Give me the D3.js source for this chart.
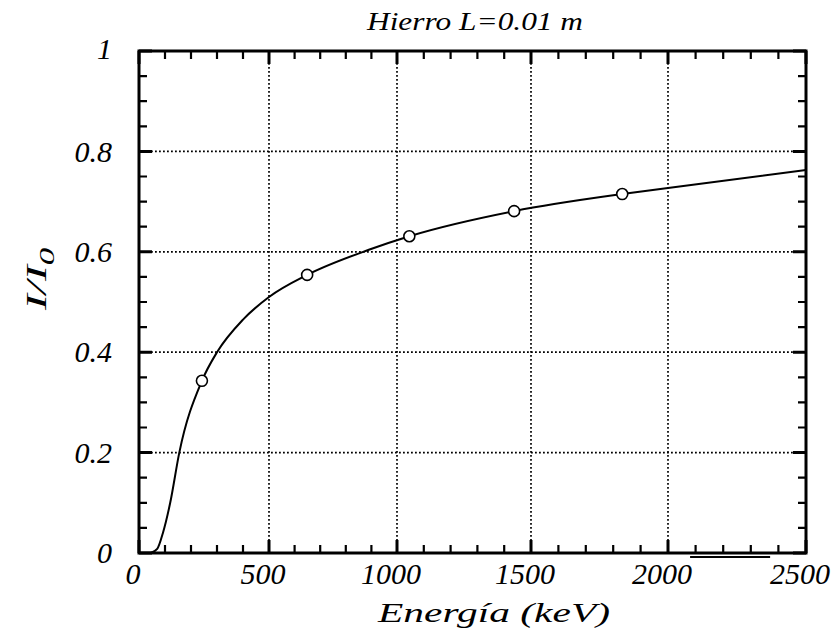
<!DOCTYPE html>
<html>
<head>
<meta charset="utf-8">
<script src="https://cdn.jsdelivr.net/npm/d3@7"></script>
<style>
  body { margin: 0; background: #fff; overflow: hidden; }
  svg { display: block; }
  svg text { font-family: "Liberation Serif", "DejaVu Serif", serif; font-style: italic; fill: #000; }
</style>
</head>
<body>
<div id="content"></div>
<script>
// measured points, energy in keV vs transmitted fraction
var pointEnergy = [242, 649, 1046, 1437, 1833];
var pointRatio = [0.343, 0.554, 0.631, 0.681, 0.715];

// fitted curve
var curveEnergy = [45, 70, 92, 120, 155, 242, 300, 400, 500, 649, 890, 1046, 1437, 1833, 2000, 2500];
var curveRatio = [0, 0.008, 0.04, 0.1, 0.2, 0.343, 0.40, 0.465, 0.51, 0.554, 0.604, 0.631, 0.681, 0.715, 0.727, 0.763];

var xTicks = [0, 500, 1000, 1500, 2000, 2500];
var yTicks = [0, 0.2, 0.4, 0.6, 0.8, 1];
var xGrid = [500, 1000, 1500, 2000];
var yGrid = [0.2, 0.4, 0.6, 0.8];

// stray pen stroke under the 2000-2500 labels in the scan
var strayStroke = [2080, 2370];

var titleText = "Hierro L=0.01 m";
var xLabel = "Energía (keV)";

var chartW = 837, chartH = 635;
var box = { left: 139, right: 806, top: 51, bottom: 553 };

var svg = d3.select("#content").append("svg")
    .attr("width", chartW)
    .attr("height", chartH);

// the scanned grid is slightly uneven, so the x scale follows it per 500 keV
var xScale = d3.scaleLinear()
    .domain(xTicks)
    .range([box.left, 269, 397, 531, 668, box.right]);
var yScale = d3.scaleLinear()
    .domain([0, 1])
    .range([box.bottom, box.top]);

// dotted grid
svg.append("g").selectAll("line")
    .data(xGrid)
    .enter().append("line")
    .attr("x1", d => xScale(d)).attr("x2", d => xScale(d))
    .attr("y1", box.top).attr("y2", box.bottom)
    .attr("stroke", "#000").attr("stroke-width", 1.7)
    .attr("stroke-dasharray", "1.8,2.2");
svg.append("g").selectAll("line")
    .data(yGrid)
    .enter().append("line")
    .attr("x1", box.left).attr("x2", box.right)
    .attr("y1", d => yScale(d)).attr("y2", d => yScale(d))
    .attr("stroke", "#000").attr("stroke-width", 1.7)
    .attr("stroke-dasharray", "1.8,2.2");

// inward ticks on all four sides, one path per tick size
var xMinor = d3.range(0, 2501, 100).filter(d => d % 500 != 0);
var yMinor = d3.range(0, 21).filter(i => i % 4 != 0).map(i => i / 20);

function tickPath(xs, ys, len) {
    var p = d3.path();
    xs.forEach(function (v) {
        var px = xScale(v);
        p.moveTo(px, box.bottom); p.lineTo(px, box.bottom - len);
        p.moveTo(px, box.top); p.lineTo(px, box.top + len);
    });
    ys.forEach(function (v) {
        var py = yScale(v);
        p.moveTo(box.left, py); p.lineTo(box.left + len, py);
        p.moveTo(box.right, py); p.lineTo(box.right - len, py);
    });
    return p.toString();
}
svg.append("path")
    .attr("d", tickPath(xMinor, yMinor, 8))
    .attr("fill", "none")
    .attr("stroke", "#000")
    .attr("stroke-width", 2.2);
svg.append("path")
    .attr("d", tickPath(xTicks, yTicks, 13))
    .attr("fill", "none")
    .attr("stroke", "#000")
    .attr("stroke-width", 3);

// frame
svg.append("rect")
    .attr("x", box.left).attr("y", box.top)
    .attr("width", box.right - box.left)
    .attr("height", box.bottom - box.top)
    .attr("fill", "none")
    .attr("stroke", "#000")
    .attr("stroke-width", 3);

// tick labels
svg.append("g").selectAll("text")
    .data(xTicks)
    .enter().append("text")
    .attr("x", d => xScale(d) - 6)
    .attr("y", box.bottom + 31)
    .style("text-anchor", "middle")
    .style("font-size", "30px")
    .text(d => d);

svg.append("g").selectAll("text")
    .data(yTicks)
    .enter().append("text")
    .attr("x", box.left - 27)
    .attr("y", d => yScale(d))
    .attr("dy", d => d == 1 ? "0.28em" : "0.34em")
    .style("text-anchor", "end")
    .style("font-size", "30px")
    .text(d => d);

// curve
var curveData = curveEnergy.map((e, i) => [e, curveRatio[i]]);
var curveLine = d3.line()
    .x(d => xScale(d[0]))
    .y(d => yScale(d[1]))
    .curve(d3.curveMonotoneX);
svg.append("path")
    .datum(curveData)
    .attr("d", curveLine)
    .attr("fill", "none")
    .attr("stroke", "#000")
    .attr("stroke-width", 2);

// points
var pts = pointEnergy.map((e, i) => [e, pointRatio[i]]);
svg.append("g").selectAll("circle")
    .data(pts)
    .enter().append("circle")
    .attr("cx", d => xScale(d[0]))
    .attr("cy", d => yScale(d[1]))
    .attr("r", 5.5)
    .attr("fill", "#fff")
    .attr("stroke", "#000")
    .attr("stroke-width", 1.6);

svg.append("line")
    .attr("x1", xScale(strayStroke[0])).attr("x2", xScale(strayStroke[1]))
    .attr("y1", yScale(0) + 4).attr("y2", yScale(0) + 4)
    .attr("stroke", "#000").attr("stroke-width", 2);

// title and axis titles
svg.append("text")
    .attr("x", 475).attr("y", 30)
    .style("text-anchor", "middle")
    .style("font-size", "26px")
    .attr("textLength", 216)
    .attr("lengthAdjust", "spacingAndGlyphs")
    .text(titleText);

svg.append("text")
    .attr("x", 494).attr("y", 622)
    .style("text-anchor", "middle")
    .style("font-size", "27px")
    .attr("textLength", 232)
    .attr("lengthAdjust", "spacingAndGlyphs")
    .text(xLabel);

var yl = svg.append("text")
    .attr("transform", "translate(46,279) rotate(-90)")
    .style("text-anchor", "middle")
    .style("font-size", "30px")
    .attr("textLength", 62)
    .attr("lengthAdjust", "spacingAndGlyphs");
yl.append("tspan").text("I/I");
yl.append("tspan").attr("dy", 8).style("font-size", "22px").text("0");
</script>
</body>
</html>
